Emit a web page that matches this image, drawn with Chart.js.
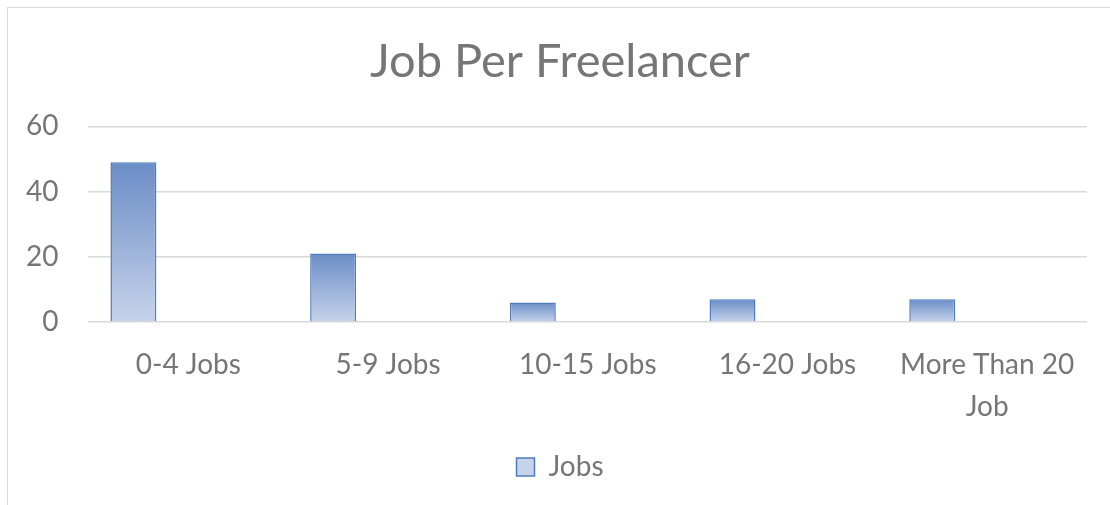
<!DOCTYPE html>
<html>
<head>
<meta charset="utf-8">
<script src="https://cdn.jsdelivr.net/npm/chart.js@4.4.0/dist/chart.umd.min.js"></script>
<style>
html, body { margin: 0; padding: 0; background: #fff; overflow: hidden; }
#frame { position: absolute; left: 7px; top: 7px; width: 1200px; height: 600px; border: 1.5px solid #d9d9d9; }
/* the source chart is cut off on the right, so the canvas runs past the window */
#wrap { position: absolute; left: 0; top: 0; width: 1130px; height: 505px; }
</style>
</head>
<body>
<div id="frame"></div>
<div id="wrap"><canvas id="myChart"></canvas></div>
<script>
var categories = ['0-4 Jobs', '5-9 Jobs', '10-15 Jobs', '16-20 Jobs', ['More Than 20', 'Job']];
var jobs = [49, 21, 6, 7, 7];
var emptySeries = [null, null, null, null, null];
var yMin = 0, yMax = 60, yStep = 20;

var textGray = '#767676';
var fontName = 'Lato, "Open Sans", sans-serif';

// each bar gets its own dark-top / light-bottom gradient, like the office chart
function barFill(c) {
	var chart = c.chart;
	if (!chart.chartArea || c.type !== 'data' || !c.parsed) return '#a0b5dc';
	var y = chart.scales.y;
	var top = y.getPixelForValue(c.parsed.y);
	var bottom = y.getPixelForValue(0);
	var g = chart.ctx.createLinearGradient(0, top, 0, bottom);
	g.addColorStop(0, '#6a8cc6');
	g.addColorStop(1, '#c6d3ea');
	return g;
}

var ctx = document.getElementById('myChart');
var myChart = new Chart(ctx, {
	type: 'bar',
	data: {
		labels: categories,
		datasets: [{
			label: 'Jobs',
			data: jobs,
			backgroundColor: barFill,
			borderColor: '#4f7cbd',
			borderWidth: 1.5,
			categoryPercentage: 1.1,
			barPercentage: 0.418
		}, {
			label: '',
			data: emptySeries,
			categoryPercentage: 1.1,
			barPercentage: 0.418
		}]
	},
	options: {
		responsive: true,
		maintainAspectRatio: false,
		animation: false,
		layout: { padding: { left: -4, right: 6, top: 0, bottom: 14 } },
		plugins: {
			title: {
				display: true,
				text: 'Job Per Freelancer',
				color: textGray,
				font: { family: fontName, size: 47, weight: 'normal' },
				padding: { top: 34, bottom: 36 }
			},
			legend: {
				position: 'bottom',
				labels: {
					filter: function (item) { return item.text !== ''; },
					color: textGray,
					font: { family: fontName, size: 28 },
					boxWidth: 18,
					boxHeight: 18,
					padding: 11
				}
			},
			tooltip: { enabled: false }
		},
		scales: {
			x: {
				grid: { display: false },
				border: { display: false },
				ticks: {
					color: textGray,
					font: { family: fontName, size: 28, lineHeight: 1.5 },
					padding: 14,
					maxRotation: 0,
					autoSkip: false
				}
			},
			y: {
				min: yMin,
				max: yMax,
				grid: { color: '#d9d9d9', lineWidth: 1.5, drawTicks: false },
				border: { display: false },
				ticks: {
					stepSize: yStep,
					color: textGray,
					font: { family: fontName, size: 28 },
					padding: 30
				}
			},
			// blank right-hand spacer so the plot stops short of the title/legend centre line
			yRight: {
				position: 'right',
				grid: { display: false },
				border: { display: false },
				ticks: { display: false },
				afterFit: function (scale) { scale.width = 37; }
			}
		}
	}
});
</script>
</body>
</html>
